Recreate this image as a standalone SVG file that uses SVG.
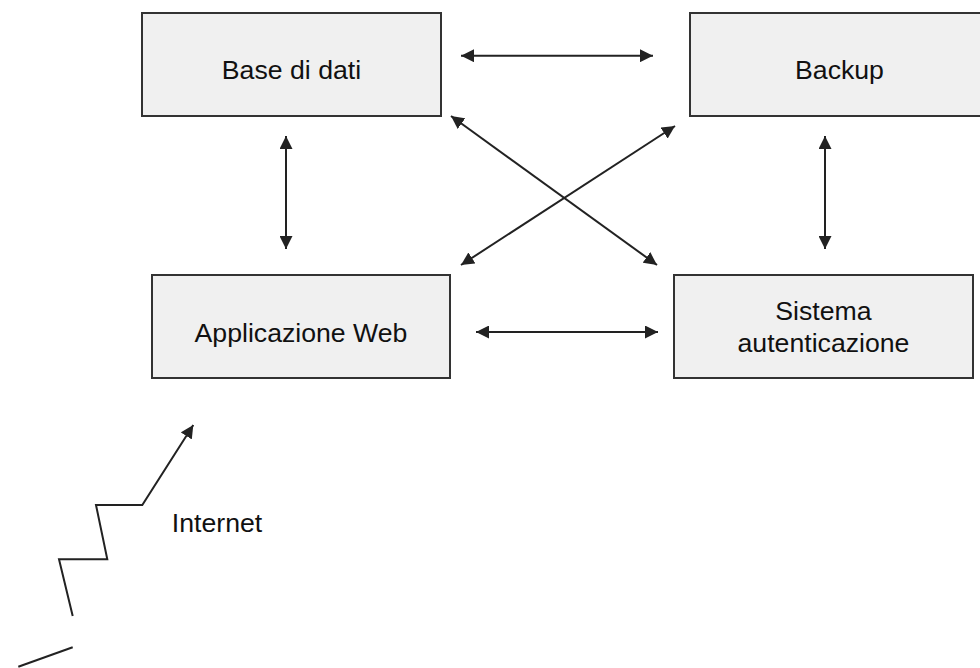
<svg xmlns="http://www.w3.org/2000/svg" width="980" height="668" viewBox="0 0 980 668">
<defs>
<style>
.box{fill:#f0f0f0;stroke:#333;stroke-width:2}
.t{font-family:"Liberation Sans",Arial,sans-serif;font-size:26.67px;fill:#111;text-anchor:middle}
.c{fill:none;stroke:#222;stroke-width:2}
</style>
<marker id="ah" viewBox="0 0 13 13" refX="13" refY="6.5" markerWidth="13" markerHeight="13" markerUnits="userSpaceOnUse" orient="auto-start-reverse">
<path d="M0,0 L13,6.5 L0,13 z" fill="#222"/>
</marker>
</defs>
<rect width="980" height="668" fill="#fff"/>
<g id="n-db"><rect class="box" x="142" y="13" width="299" height="103"/><text class="t" x="291.5" y="79">Base di dati</text></g>
<g id="n-backup"><rect class="box" x="690" y="13" width="299" height="103"/><text class="t" x="839.5" y="79">Backup</text></g>
<g id="n-web"><rect class="box" x="152" y="275" width="298" height="103"/><text class="t" x="301" y="341.7">Applicazione Web</text></g>
<g id="n-auth"><rect class="box" x="674" y="275" width="299" height="103"/><text class="t" x="823.5" y="320">Sistema</text><text class="t" x="823.5" y="351.7">autenticazione</text></g>
<g id="connectors">
<line class="c" x1="461" y1="55.7" x2="653" y2="55.7" marker-start="url(#ah)" marker-end="url(#ah)"/>
<line class="c" x1="286" y1="136" x2="286" y2="249" marker-start="url(#ah)" marker-end="url(#ah)"/>
<line class="c" x1="825" y1="136" x2="825" y2="249" marker-start="url(#ah)" marker-end="url(#ah)"/>
<line class="c" x1="476" y1="332" x2="658" y2="332" marker-start="url(#ah)" marker-end="url(#ah)"/>
<line class="c" x1="451" y1="116" x2="657" y2="265" marker-start="url(#ah)" marker-end="url(#ah)"/>
<line class="c" x1="675" y1="126" x2="461" y2="265" marker-start="url(#ah)" marker-end="url(#ah)"/>
<polyline class="c" points="72.7,616 59,559.3 107.3,559.3 96,505 142.3,505 193.3,425" marker-end="url(#ah)"/>
<line class="c" x1="72.7" y1="647.3" x2="18.3" y2="666.7"/>
</g>
<text class="t" x="217" y="532">Internet</text>
</svg>
